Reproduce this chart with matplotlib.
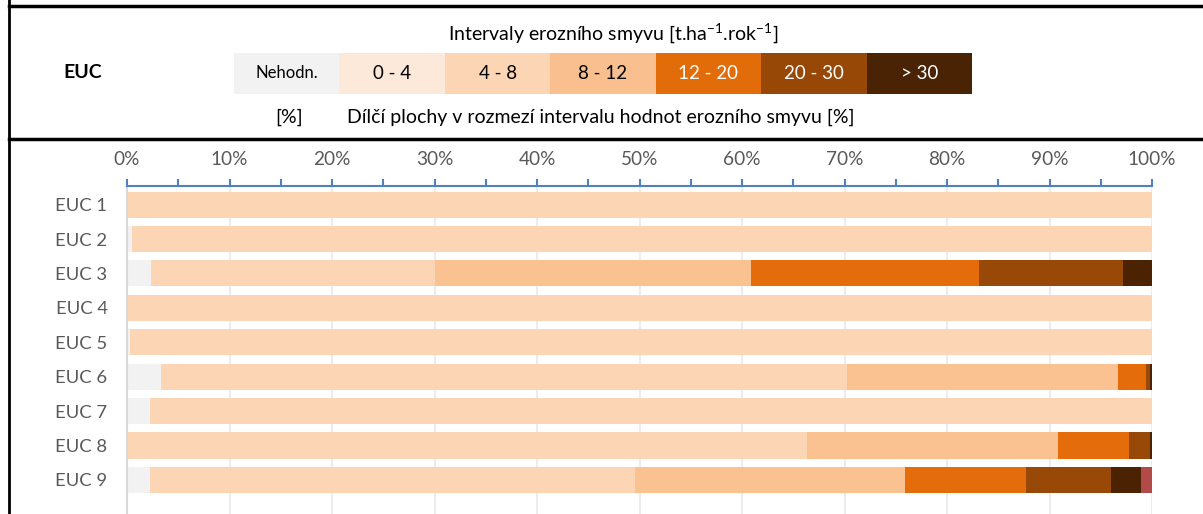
import numpy as np
import matplotlib.pyplot as plt
from matplotlib.lines import Line2D
from matplotlib.patches import Rectangle
from matplotlib.ticker import MultipleLocator, PercentFormatter

plt.rcParams['font.family'] = ['Lato', 'DejaVu Sans']
plt.rcParams['mathtext.default'] = 'regular'

# erozně uzavřené celky
euc = ["EUC 1", "EUC 2", "EUC 3", "EUC 4", "EUC 5", "EUC 6", "EUC 7", "EUC 8", "EUC 9"]

# dílčí plochy v intervalech smyvu [%]
nehodn = [0.0, 0.5, 2.3, 0.0, 0.3, 3.3, 2.2, 0.1, 2.2]
s_0_4 = [100.0, 99.5, 27.7, 100.0, 99.7, 66.9, 97.8, 66.2, 47.4]
s_4_8 = [0.0, 0.0, 30.9, 0.0, 0.0, 26.5, 0.0, 24.5, 26.3]
s_8_12 = [0.0, 0.0, 22.2, 0.0, 0.0, 2.7, 0.0, 7.0, 11.8]
s_12_20 = [0.0, 0.0, 14.1, 0.0, 0.0, 0.4, 0.0, 2.0, 8.3]
s_20_30 = [0.0, 0.0, 2.8, 0.0, 0.0, 0.2, 0.0, 0.2, 2.9]
s_30 = [0.0, 0.0, 0.0, 0.0, 0.0, 0.0, 0.0, 0.0, 1.1]

series = [nehodn, s_0_4, s_4_8, s_8_12, s_12_20, s_20_30, s_30]
bar_colors = ["#f2f2f2", "#fcd5b5", "#fac191", "#e46c0a", "#984807", "#4b2303", "#b34a4a"]

# legenda intervalů
leg_labels = ["Nehodn.", "0 - 4", "4 - 8", "8 - 12", "12 - 20", "20 - 30", "> 30"]
leg_colors = ["#f2f2f2", "#fde9d9", "#fcd5b4", "#fabf8f", "#e36c0a", "#974806", "#4a2305"]
leg_text = ["#000000", "#000000", "#000000", "#000000", "#ffffff", "#ffffff", "#ffffff"]

W, H = 1203, 514
fig = plt.figure(figsize=(W / 100, H / 100), dpi=100)


def fx(px):
    return px / W


def fy(py):
    return 1 - py / H


# rámeček tabulky
fig.add_artist(Line2D([fx(9), fx(9)], [0, 1], color="black", lw=2))
fig.add_artist(Line2D([fx(9), 1], [fy(6), fy(6)], color="black", lw=2.5))
fig.add_artist(Line2D([fx(9), 1], [fy(139), fy(139)], color="black", lw=2.5))

# hlavička
fig.text(fx(613), fy(33), "Intervaly erozního smyvu [t.ha$^{-1}$.rok$^{-1}$]",
         ha="center", va="center", fontsize=14)
fig.text(fx(83), fy(73), "EUC", ha="center", va="center", fontsize=14, fontweight="bold")
fig.text(fx(289), fy(117), "[%]", ha="center", va="center", fontsize=14)
fig.text(fx(601), fy(117), "Dílčí plochy v rozmezí intervalu hodnot erozního smyvu [%]",
         ha="center", va="center", fontsize=14)

x0, x1 = 234, 972
bw = (x1 - x0) / len(leg_labels)
for i, (lab, col, tc) in enumerate(zip(leg_labels, leg_colors, leg_text)):
    left = x0 + i * bw
    fig.add_artist(Rectangle((fx(left), fy(94)), fx(bw), (94 - 53) / H,
                             facecolor=col, edgecolor="none"))
    fig.text(fx(left + bw / 2), fy(73.5), lab, ha="center", va="center",
             fontsize=12 if i == 0 else 13.5, color=tc)

# graf
ax = fig.add_axes([fx(127), 0, fx(1152) - fx(127), (H - 186) / H])
y = np.arange(len(euc))
left = np.zeros(len(euc))
for vals, col in zip(series, bar_colors):
    ax.barh(y, vals, left=left, height=0.756, color=col, edgecolor="none", zorder=2)
    left += np.array(vals)

ax.set_xlim(0, 100)
ax.set_ylim(8.99, -0.54)
ax.set_yticks(y)
ax.set_yticklabels(euc)
ax.xaxis.tick_top()
ax.xaxis.set_major_locator(MultipleLocator(10))
ax.xaxis.set_minor_locator(MultipleLocator(5))
ax.xaxis.set_major_formatter(PercentFormatter(decimals=0))
ax.tick_params(axis="x", which="both", direction="out", length=5, width=1.5,
               color="#4f81bd", labelsize=13.7, labelcolor="#595959", pad=8)
ax.tick_params(axis="y", length=0, labelsize=13.3, labelcolor="#595959", pad=14)
ax.grid(axis="x", color="#ececec", lw=1.5, zorder=0)

for s in ["right", "bottom"]:
    ax.spines[s].set_visible(False)
ax.spines["top"].set_color("#4f81bd")
ax.spines["top"].set_linewidth(1.5)
ax.spines["left"].set_color("#d9d9d9")
ax.spines["left"].set_linewidth(1.5)

fig.savefig("out.png", dpi=100)
